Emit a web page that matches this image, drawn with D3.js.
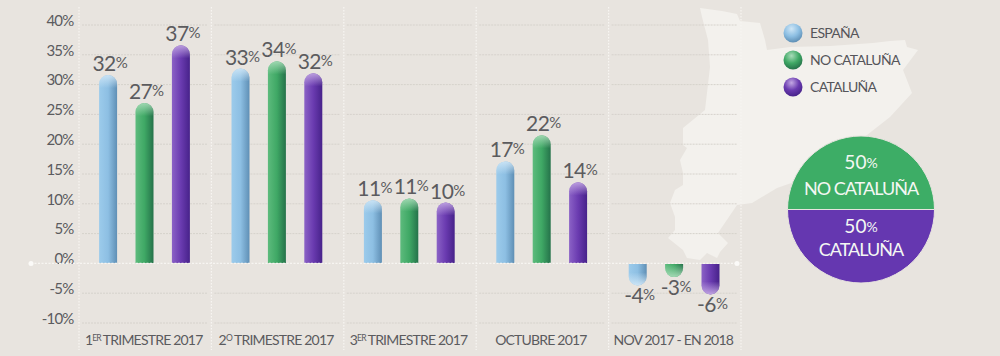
<!DOCTYPE html>
<html>
<head>
<meta charset="utf-8">
<script src="https://cdn.jsdelivr.net/npm/d3@7"></script>
<style>
html, body { margin: 0; padding: 0; background: #e8e4df; }
svg { display: block; }
text { font-family: 'Lato', sans-serif; }
</style>
</head>
<body>
<div id="chart"></div>
<script>
// Data
var periods = ['1ER TRIMESTRE 2017', '2O TRIMESTRE 2017', '3ER TRIMESTRE 2017', 'OCTUBRE 2017', 'NOV 2017 - EN 2018'];
var periodMain = ['1', '2', '3', 'OCTUBRE 2017', 'NOV 2017 - EN 2018'];
var periodSup = ['ER', 'O', 'ER', '', ''];
var periodTail = ['TRIMESTRE 2017', 'TRIMESTRE 2017', 'TRIMESTRE 2017', '', ''];
var seriesNames = ['ESPAÑA', 'NO CATALUÑA', 'CATALUÑA'];
var espana = [31.6, 32.7, 10.6, 17.1, -3.7];
var noCataluna = [26.9, 33.9, 10.9, 21.5, -2.3];
var cataluna = [36.6, 31.9, 10.2, 13.6, -5.2];
var espanaLabels = [32, 33, 11, 17, -4];
var noCatalunaLabels = [27, 34, 11, 22, -3];
var catalunaLabels = [37, 32, 10, 14, -6];
var yTicks = [40, 35, 30, 25, 20, 15, 10, 5, 0, -5, -10];
var shareNames = ['NO CATALUÑA', 'CATALUÑA'];
var shareValues = [50, 50];

var width = 1000;
var height = 356;

var svg = d3.select('#chart').append('svg')
    .attr('width', width)
    .attr('height', height)
    .attr('viewBox', '0 0 1000 356');

var yScale = d3.scaleLinear().domain([-10, 40]).range([323, 25]);
var xPeriod = d3.scaleBand().domain(periods).range([79, 741]);
var xSeries = d3.scaleBand().domain(seriesNames).range([20, 111]).paddingInner(0.5).paddingOuter(0);

var seriesData = [espana, noCataluna, cataluna];
var labelData = [espanaLabels, noCatalunaLabels, catalunaLabels];
var bandW = 18;

// gradients
var defs = svg.append('defs');
var barStops = [
    ['#9ccbeb', '#8dbfe3', '#5f8fb5'],
    ['#5dbb7d', '#3fa865', '#25724a'],
    ['#8b62c6', '#6a3bb0', '#47228a']
];
var capTints = ['#cfe6f6', '#a9dcb9', '#c3a8e3'];
barStops.forEach(function(c, i) {
    var g = defs.append('linearGradient').attr('id', 'bar' + i);
    g.append('stop').attr('offset', '0%').attr('stop-color', c[0]);
    g.append('stop').attr('offset', '50%').attr('stop-color', c[1]);
    g.append('stop').attr('offset', '100%').attr('stop-color', c[2]);

    var up = defs.append('linearGradient').attr('id', 'capUp' + i).attr('x1', 0).attr('x2', 0).attr('y1', 0).attr('y2', 1);
    up.append('stop').attr('offset', '0%').attr('stop-color', capTints[i]).attr('stop-opacity', 0.9);
    up.append('stop').attr('offset', '100%').attr('stop-color', capTints[i]).attr('stop-opacity', 0);

    var down = defs.append('linearGradient').attr('id', 'capDown' + i).attr('x1', 0).attr('x2', 0).attr('y1', 0).attr('y2', 1);
    down.append('stop').attr('offset', '0%').attr('stop-color', capTints[i]).attr('stop-opacity', 0);
    down.append('stop').attr('offset', '100%').attr('stop-color', capTints[i]).attr('stop-opacity', 0.95);

    var ball = defs.append('radialGradient').attr('id', 'ball' + i)
        .attr('cx', '42%').attr('cy', '28%').attr('r', '72%');
    ball.append('stop').attr('offset', '0%').attr('stop-color', capTints[i]);
    ball.append('stop').attr('offset', '55%').attr('stop-color', c[1]);
    ball.append('stop').attr('offset', '100%').attr('stop-color', c[2]);
});

// map of the peninsula behind everything
var mapOutline = [[700,8],[722,11],[737,14],[740,21],[760,23],[765,40],[767,50],[790,47],[830,46],[873,43],[890,41],[905,40],[907,47],[918,50],[903,70],[912,93],[890,117],[867,135],
    [800,180],[777,188],[752,203],[737,205],[718,233],[728,243],[720,252],[717,258],[707,253],[700,260],[687,258],[683,250],[668,238],[675,230],[675,217],[670,203],[675,190],[683,185],[683,173],[680,160],[687,148],[683,145],[683,128],[705,110],[710,67],[708,40],[702,17]];
svg.append('path')
    .attr('d', d3.line().curve(d3.curveLinearClosed)(mapOutline))
    .attr('fill', '#f3f1ed');

// grid lines, one run per panel
periods.forEach(function(p) {
    svg.append('g').selectAll('line')
        .data(yTicks.filter(function(t) { return t !== 0; }))
        .join('line')
        .attr('x1', xPeriod(p) + 3)
        .attr('x2', xPeriod(p) + xPeriod.bandwidth() - 4)
        .attr('y1', function(d) { return yScale(d); })
        .attr('y2', function(d) { return yScale(d); })
        .attr('stroke', '#d6d2cc')
        .attr('stroke-width', 1)
        .attr('stroke-dasharray', '2 1');
});

// panel separators
svg.append('g').selectAll('line')
    .data(periods.concat(['end']))
    .join('line')
    .attr('x1', function(d, i) { return 79 + i * xPeriod.bandwidth(); })
    .attr('x2', function(d, i) { return 79 + i * xPeriod.bandwidth(); })
    .attr('y1', 7)
    .attr('y2', 350)
    .attr('stroke', '#f7f5f2')
    .attr('stroke-width', 1.2)
    .attr('stroke-dasharray', '1.5 1.5');

// y axis
var yAxis = d3.axisLeft(yScale)
    .tickValues(yTicks)
    .tickSize(0)
    .tickPadding(0)
    .tickFormat(function(d) { return d + '%'; });
var yAxisG = svg.append('g')
    .attr('transform', 'translate(73.5, -4.5)')
    .call(yAxis);
yAxisG.select('.domain').remove();
yAxisG.selectAll('text')
    .style('font-size', '15px')
    .style('letter-spacing', '-0.8px')
    .style('fill', '#5b5b5e');

// bars
function barPath(x, w, y0, y1) {
    var r = w / 2;
    var h = Math.abs(y1 - y0);
    var rr = Math.min(r, h);
    if (y1 < y0) {
        return 'M' + x + ',' + y0 + 'V' + (y1 + rr) +
            'A' + r + ',' + rr + ' 0 0 1 ' + (x + w) + ',' + (y1 + rr) + 'V' + y0 + 'Z';
    }
    return 'M' + x + ',' + y0 + 'V' + (y1 - rr) +
        'A' + r + ',' + rr + ' 0 0 0 ' + (x + w) + ',' + (y1 - rr) + 'V' + y0 + 'Z';
}

seriesNames.forEach(function(name, s) {
    var rows = periods.map(function(p, i) {
        return { period: p, value: seriesData[s][i], label: labelData[s][i] };
    });
    var xOf = function(d) { return xPeriod(d.period) + xSeries(name) + xSeries.bandwidth() / 2 - bandW / 2; };
    var g = svg.append('g');

    g.selectAll('path.bar').data(rows).join('path')
        .attr('class', 'bar')
        .attr('d', function(d) { return barPath(xOf(d), bandW, yScale(0) + 0.5 * (d.value > 0 ? -1 : 1), yScale(d.value)); })
        .attr('fill', 'url(#bar' + s + ')');

    // light tip at the rounded end
    g.selectAll('path.tip').data(rows).join('path')
        .attr('class', 'tip')
        .attr('d', function(d) {
            var yv = yScale(d.value);
            var y0 = d.value > 0 ? yv + 13 : Math.max(yv - 13, yScale(0));
            return barPath(xOf(d), bandW, y0, yv);
        })
        .attr('fill', function(d) { return 'url(#' + (d.value > 0 ? 'capUp' : 'capDown') + s + ')'; });

    var txt = g.selectAll('text').data(rows).join('text')
        .attr('x', function(d) { return xOf(d) + bandW / 2 + 2; })
        .attr('y', function(d) { return d.value > 0 ? yScale(d.value) - 4 : yScale(d.value) + 18; })
        .attr('text-anchor', 'middle')
        .style('fill', '#5b5b5e');
    txt.append('tspan').style('font-size', '21px').style('letter-spacing', '-0.6px').text(function(d) { return d.label; });
    txt.append('tspan').style('font-size', '15px').attr('dy', -3).text('%');
});

// zero line
svg.append('line')
    .attr('x1', 31).attr('x2', 737)
    .attr('y1', yScale(0)).attr('y2', yScale(0))
    .attr('stroke', '#f7f5f2')
    .attr('stroke-width', 1.4)
    .attr('stroke-dasharray', '2 1.5');
svg.append('g').selectAll('circle')
    .data([31, 737])
    .join('circle')
    .attr('cx', function(d) { return d; })
    .attr('cy', yScale(0))
    .attr('r', 2.5)
    .attr('fill', '#fbfaf8');

// period labels
var periodText = svg.append('g').selectAll('text')
    .data(periods)
    .join('text')
    .attr('x', function(d) { return xPeriod(d) + xPeriod.bandwidth() / 2 - 1.5; })
    .attr('y', 345)
    .attr('text-anchor', 'middle')
    .style('font-size', '14px')
    .style('letter-spacing', '-0.8px')
    .style('fill', '#5b5b5e');
periodText.append('tspan').text(function(d, i) { return periodMain[i]; });
periodText.append('tspan')
    .attr('dy', -4)
    .style('font-size', '8.5px')
    .text(function(d, i) { return periodSup[i]; });
periodText.append('tspan')
    .attr('dy', function(d, i) { return periodSup[i] ? 4 : 0; })
    .attr('dx', 2)
    .text(function(d, i) { return periodTail[i]; });

// legend
var legend = svg.append('g').selectAll('g')
    .data(seriesNames)
    .join('g')
    .attr('transform', function(d, i) { return 'translate(793,' + (33 + i * 27) + ')'; });
legend.append('circle')
    .attr('r', 9.5)
    .attr('fill', function(d, i) { return 'url(#ball' + i + ')'; });
legend.append('text')
    .attr('x', 17)
    .attr('y', 5)
    .style('font-size', '14px')
    .style('letter-spacing', '-0.7px')
    .style('fill', '#55555a')
    .text(function(d) { return d; });

// share circle
var shareColors = ['#3dad66', '#6537b0'];
var pie = d3.pie().sort(null).startAngle(-Math.PI / 2).endAngle(Math.PI * 1.5);
var arc = d3.arc().innerRadius(0).outerRadius(73.5);
var shareG = svg.append('g').attr('transform', 'translate(861,209.5)');
shareG.selectAll('path')
    .data(pie(shareValues))
    .join('path')
    .attr('d', arc)
    .attr('fill', function(d, i) { return shareColors[i]; })
    .attr('stroke', '#e8e4df')
    .attr('stroke-width', 1);

var shareText = shareG.selectAll('g.share')
    .data(shareNames)
    .join('g')
    .attr('class', 'share');
var pctText = shareText.append('text')
    .attr('y', function(d, i) { return i === 0 ? -41 : 23; })
    .attr('text-anchor', 'middle')
    .style('fill', '#f4f7f3');
pctText.append('tspan').style('font-size', '19px').text(function(d, i) { return shareValues[i]; });
pctText.append('tspan').style('font-size', '14px').attr('dy', -1).text('%');
shareText.append('text')
    .attr('y', function(d, i) { return i === 0 ? -15 : 46; })
    .attr('text-anchor', 'middle')
    .style('font-size', '18px')
    .style('letter-spacing', '-1px')
    .style('fill', '#f4f7f3')
    .text(function(d) { return d; });
</script>
</body>
</html>
